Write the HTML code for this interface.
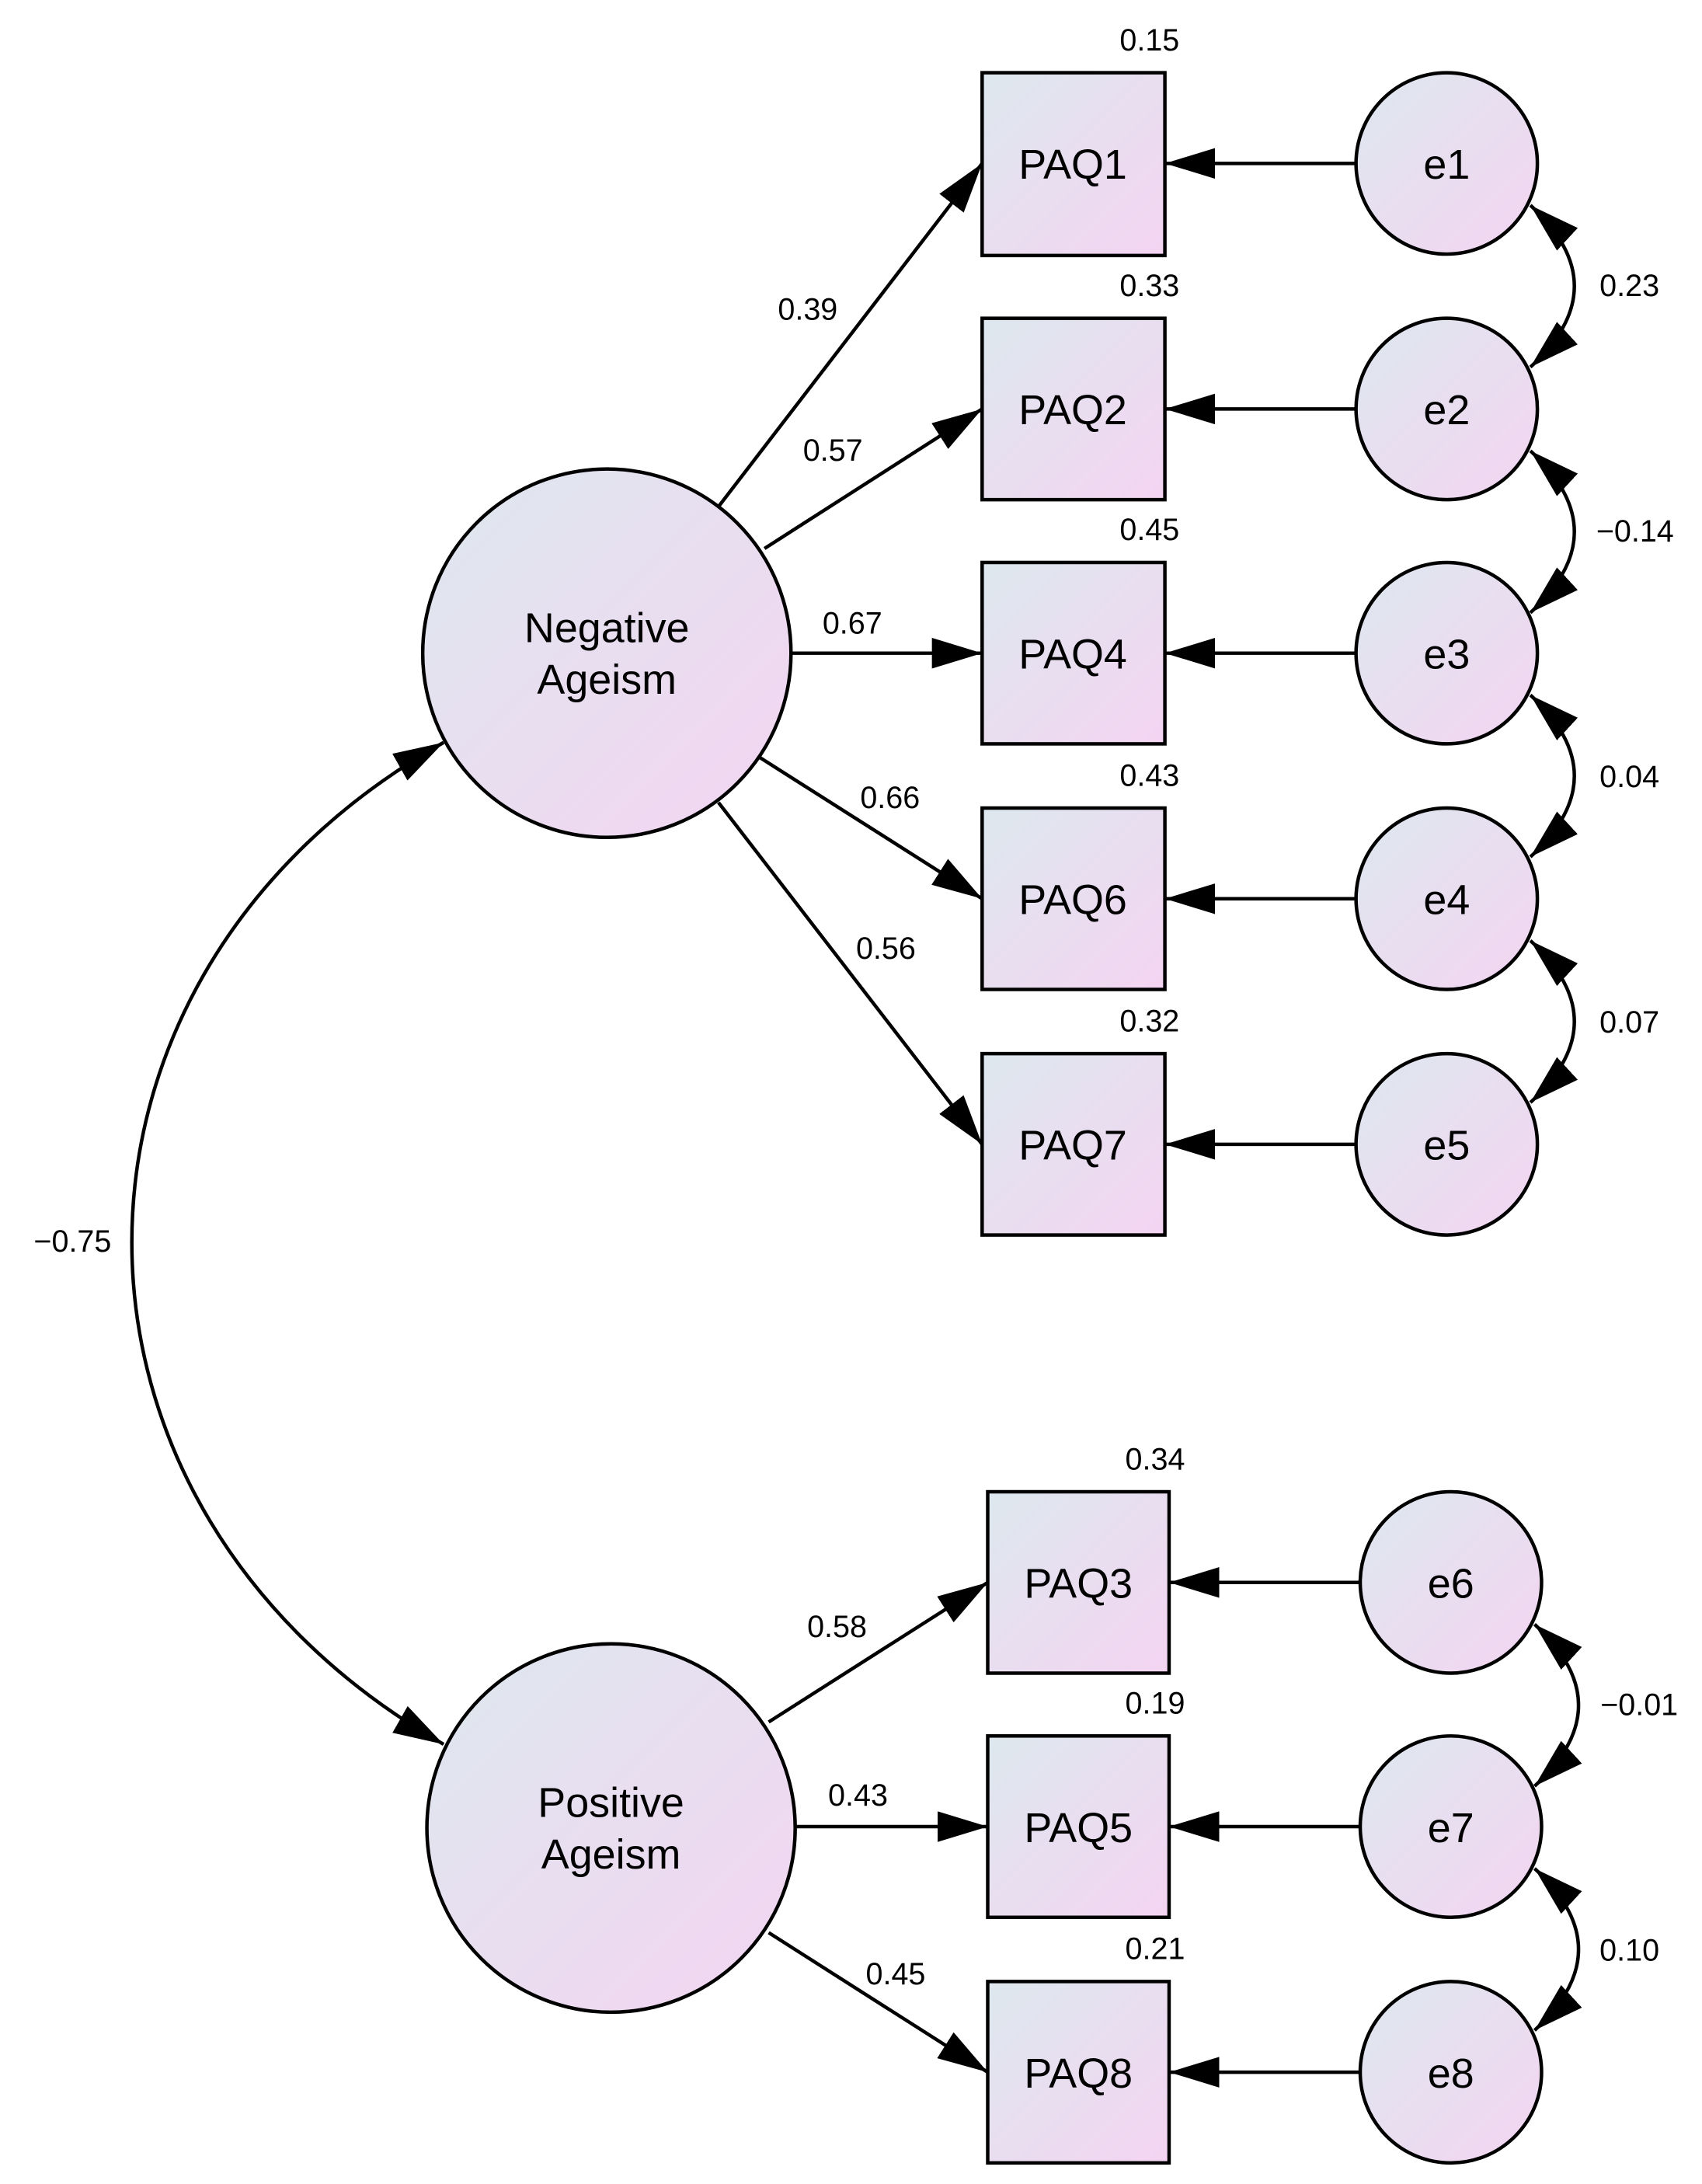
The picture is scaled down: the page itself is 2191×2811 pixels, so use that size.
<!DOCTYPE html>
<html><head><meta charset="utf-8"><style>html,body{margin:0;padding:0;background:#fff}svg{display:block}</style></head>
<body>
<svg width="2191" height="2811" viewBox="0 0 1220 1565" xmlns="http://www.w3.org/2000/svg" font-family="Liberation Sans, Arial, sans-serif">
<defs>
<linearGradient id="g" x1="0" y1="0" x2="1" y2="1"><stop offset="0" stop-color="#dde8ee"/><stop offset="1" stop-color="#f4d4f2"/></linearGradient>
<marker id="b" viewBox="0 0 10 10" refX="10" refY="5" markerWidth="36" markerHeight="22" markerUnits="userSpaceOnUse" orient="auto-start-reverse" preserveAspectRatio="none"><path d="M0,0L10,5L0,10z" fill="#000"/></marker>
</defs>
<g stroke="#000" stroke-width="2.5" fill="none" marker-end="url(#b)">
<path d="M515,363L704,117"/><path d="M548,393L704,293"/><path d="M567,468L704,468"/><path d="M545,543L704,644"/><path d="M515,575L704,820"/>
<path d="M551,1234L708,1134"/><path d="M570,1309L708,1309"/><path d="M551,1385L708,1485"/>
<path d="M972,117L835,117"/><path d="M972,293L835,293"/><path d="M972,468L835,468"/><path d="M972,644L835,644"/><path d="M972,820L835,820"/>
<path d="M975,1134L838,1134"/><path d="M975,1309L838,1309"/><path d="M975,1485L838,1485"/>
</g>
<g stroke="#000" stroke-width="2.5" fill="none" marker-start="url(#b)" marker-end="url(#b)">
<path d="M318,532C20,700 20,1080 318,1250"/>
<path d="M1097,147Q1160,205 1097,263"/><path d="M1097,323Q1160,381 1097,439"/><path d="M1097,498Q1160,556 1097,614"/><path d="M1097,674Q1160,732 1097,790"/>
<path d="M1100,1164Q1163,1222 1100,1280"/><path d="M1100,1339Q1163,1397 1100,1455"/>
</g>
<g stroke="#000" stroke-width="2.5" fill="url(#g)">
<rect x="704" y="52" width="131" height="131"/><rect x="704" y="228" width="131" height="130"/><rect x="704" y="403" width="131" height="130"/><rect x="704" y="579" width="131" height="130"/><rect x="704" y="755" width="131" height="130"/>
<rect x="708" y="1069" width="130" height="130"/><rect x="708" y="1244" width="130" height="130"/><rect x="708" y="1420" width="130" height="130"/>
<circle cx="1037" cy="117" r="65"/><circle cx="1037" cy="293" r="65"/><circle cx="1037" cy="468" r="65"/><circle cx="1037" cy="644" r="65"/><circle cx="1037" cy="820" r="65"/>
<circle cx="1040" cy="1134" r="65"/><circle cx="1040" cy="1309" r="65"/><circle cx="1040" cy="1485" r="65"/>
<circle cx="435" cy="468" r="132"/><circle cx="438" cy="1310" r="132"/>
</g>
<g font-size="30" text-anchor="middle" fill="#000">
<text x="769" y="128">PAQ1</text><text x="769" y="304">PAQ2</text><text x="769" y="479">PAQ4</text><text x="769" y="655">PAQ6</text><text x="769" y="831">PAQ7</text>
<text x="773" y="1145">PAQ3</text><text x="773" y="1320">PAQ5</text><text x="773" y="1496">PAQ8</text>
<text x="1037" y="128">e1</text><text x="1037" y="304">e2</text><text x="1037" y="479">e3</text><text x="1037" y="655">e4</text><text x="1037" y="831">e5</text>
<text x="1040" y="1145">e6</text><text x="1040" y="1320">e7</text><text x="1040" y="1496">e8</text>
<text x="435" y="460">Negative</text><text x="435" y="497">Ageism</text>
<text x="438" y="1302">Positive</text><text x="438" y="1339">Ageism</text>
</g>
<g font-size="22" text-anchor="middle" fill="#000">
<text x="824" y="36">0.15</text><text x="824" y="212">0.33</text><text x="824" y="387">0.45</text><text x="824" y="563">0.43</text><text x="824" y="739">0.32</text>
<text x="828" y="1053">0.34</text><text x="828" y="1228">0.19</text><text x="828" y="1404">0.21</text>
<text x="579" y="229">0.39</text><text x="597" y="330">0.57</text><text x="611" y="454">0.67</text><text x="638" y="579">0.66</text><text x="635" y="687">0.56</text>
<text x="600" y="1173">0.58</text><text x="615" y="1294">0.43</text><text x="642" y="1422">0.45</text>
<text x="1168" y="212">0.23</text><text x="1172" y="388">−0.14</text><text x="1168" y="564">0.04</text><text x="1168" y="740">0.07</text>
<text x="1175" y="1229">−0.01</text><text x="1168" y="1405">0.10</text>
<text x="52" y="897">−0.75</text>
</g>
</svg>
</body></html>
